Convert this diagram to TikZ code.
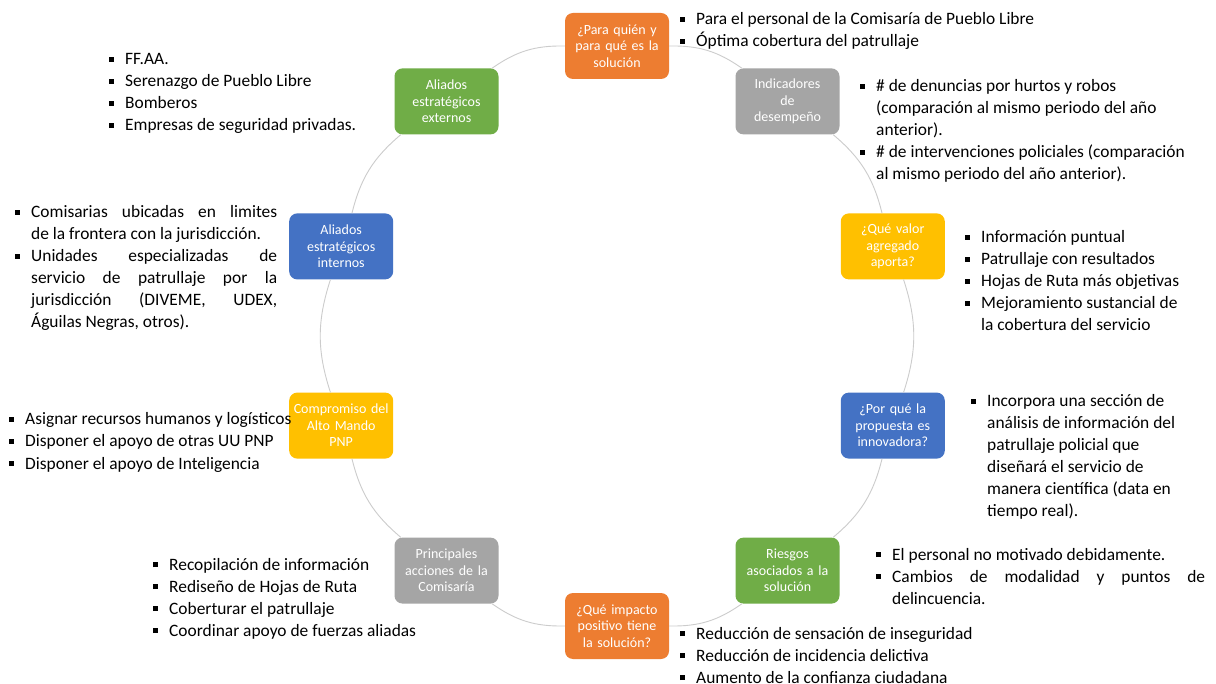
\documentclass[tikz,border=0pt]{standalone}
\usepackage{fontspec}
\setmainfont{Carlito}

\definecolor{naranja}{HTML}{ED7D31}
\definecolor{gris}{HTML}{A5A5A5}
\definecolor{oro}{HTML}{FFC000}
\definecolor{azul}{HTML}{4472C4}
\definecolor{verde}{HTML}{70AD47}

% vineta cuadrada y linea justificada
\newcommand{\sq}{\makebox[16pt][l]{\raisebox{3pt}{\rule{5pt}{5pt}}}}
\newcommand{\jl}[2]{\makebox[#1][s]{#2}}

\tikzset{
  stage/.style={fill=#1, rounded corners=8pt, minimum width=104pt,
    minimum height=66pt, text width=100pt, inner sep=1pt, align=center,
    text=white, font=\fontsize{14}{16.5}\selectfont},
  notes/.style={anchor=base west, inner sep=0pt,
    font=\fontsize{17.4}{22}\selectfont},
  ring/.style={draw=gray!40, line width=0.9pt},
}

\begin{document}
\begin{tikzpicture}[x=1pt,y=-1pt]
  \useasboundingbox[fill=white] (0,0) rectangle (1216,684);
  % ciclo
  \node[stage=naranja] (quien) at (617,46) {¿Para quién y\\para qué es la\\solución};
  \node[stage=gris] (indic) at (787.5,101.4) {Indicadores\\de\\desempeño};
  \node[stage=oro] (valor) at (892.8,246.4) {¿Qué valor\\agregado\\aporta?};
  \node[stage=azul] (innova) at (892.8,425.6) {¿Por qué la\\propuesta es\\innovadora?};
  \node[stage=verde] (riesgo) at (787.5,570.6) {Riesgos\\asociados a la\\solución};
  \node[stage=naranja] (impacto) at (617,626) {¿Qué impacto\\positivo tiene\\la solución?};
  \node[stage=gris] (acciones) at (446.5,570.6) {Principales\\acciones de la\\Comisaría};
  \node[stage=oro] (mando) at (341.2,425.6) {Compromiso del\\Alto Mando\\PNP};
  \node[stage=azul] (internos) at (341.2,246.4) {Aliados\\estratégicos\\internos};
  \node[stage=verde] (externos) at (446.5,101.4) {Aliados\\estratégicos\\externos};
  \draw[ring] (quien) to[bend left=18] (indic);
  \draw[ring] (indic) to[bend left=18] (valor);
  \draw[ring] (valor) to[bend left=18] (innova);
  \draw[ring] (innova) to[bend left=18] (riesgo);
  \draw[ring] (riesgo) to[bend left=18] (impacto);
  \draw[ring] (impacto) to[bend left=18] (acciones);
  \draw[ring] (acciones) to[bend left=18] (mando);
  \draw[ring] (mando) to[bend left=18] (internos);
  \draw[ring] (internos) to[bend left=18] (externos);
  \draw[ring] (externos) to[bend left=18] (quien);
  % notas
  \node[notes] (n-quien) at (680,25) {\begin{tabular}[t]{@{}l@{}l@{}}
    \sq & Para el personal de la Comisaría de Pueblo Libre\\
    \sq & Óptima cobertura del patrullaje
  \end{tabular}};
  \node[notes] (n-indic) at (860,92) {\begin{tabular}[t]{@{}l@{}l@{}}
    \sq & \# de denuncias por hurtos y robos\\
        & (comparación al mismo periodo del año\\
        & anterior).\\
    \sq & \# de intervenciones policiales (comparación\\
        & al mismo periodo del año anterior).
  \end{tabular}};
  \node[notes] (n-valor) at (965,243) {\begin{tabular}[t]{@{}l@{}l@{}}
    \sq & Información puntual\\
    \sq & Patrullaje con resultados\\
    \sq & Hojas de Ruta más objetivas\\
    \sq & Mejoramiento sustancial de\\
        & la cobertura del servicio
  \end{tabular}};
  \node[notes] (n-innova) at (971,407) {\begin{tabular}[t]{@{}l@{}l@{}}
    \sq & Incorpora una sección de\\
        & análisis de información del\\
        & patrullaje policial que\\
        & diseñará el servicio de\\
        & manera científica (data en\\
        & tiempo real).
  \end{tabular}};
  \node[notes] (n-riesgo) at (876,560) {\begin{tabular}[t]{@{}l@{}l@{}}
    \sq & El personal no motivado debidamente.\\
    \sq & \jl{313pt}{Cambios de modalidad y puntos de}\\
        & delincuencia.
  \end{tabular}};
  \node[notes] (n-impacto) at (680,639) {\begin{tabular}[t]{@{}l@{}l@{}}
    \sq & Reducción de sensación de inseguridad\\
    \sq & Reducción de incidencia delictiva\\
    \sq & Aumento de la confianza ciudadana
  \end{tabular}};
  \node[notes] (n-acciones) at (153,570) {\begin{tabular}[t]{@{}l@{}l@{}}
    \sq & Recopilación de información\\
    \sq & Rediseño de Hojas de Ruta\\
    \sq & Coberturar el patrullaje\\
    \sq & Coordinar apoyo de fuerzas aliadas
  \end{tabular}};
  \node[notes] (n-mando) at (9,425) {\begin{tabular}[t]{@{}l@{}l@{}}
    \sq & Asignar recursos humanos y logísticos\\
    \sq & Disponer el apoyo de otras UU PNP\\
    \sq & Disponer el apoyo de Inteligencia
  \end{tabular}};
  \node[notes] (n-internos) at (15,218) {\begin{tabular}[t]{@{}l@{}l@{}}
    \sq & \jl{246pt}{Comisarias ubicadas en limites}\\
        & de la frontera con la jurisdicción.\\
    \sq & \jl{246pt}{Unidades especializadas de}\\
        & \jl{246pt}{servicio de patrullaje por la}\\
        & \jl{246pt}{jurisdicción (DIVEME, UDEX,}\\
        & Águilas Negras, otros).
  \end{tabular}};
  \node[notes] (n-externos) at (109,65) {\begin{tabular}[t]{@{}l@{}l@{}}
    \sq & FF.AA.\\
    \sq & Serenazgo de Pueblo Libre\\
    \sq & Bomberos\\
    \sq & Empresas de seguridad privadas.
  \end{tabular}};
\end{tikzpicture}
\end{document}
